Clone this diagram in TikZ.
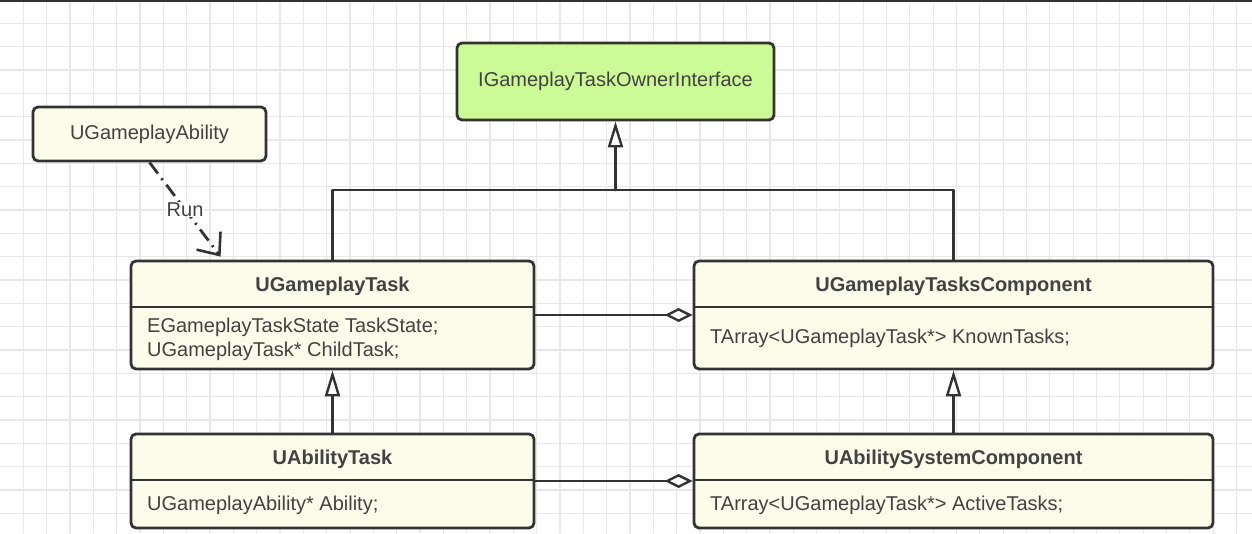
\documentclass[tikz,border=0pt]{standalone}
\usepackage{fontspec}
\setmainfont{Liberation Sans}
\usetikzlibrary{arrows.meta,positioning}
\definecolor{boxfill}{RGB}{252,252,234}
\definecolor{ifacefill}{RGB}{204,250,150}
\definecolor{inkgray}{RGB}{51,51,51}
\definecolor{txtgray}{RGB}{66,66,66}
\definecolor{gridgray}{RGB}{232,232,232}
\begin{document}
\begin{tikzpicture}[x=1pt,y=-1pt,line join=round,line cap=round,
  font=\fontsize{20}{24}\selectfont,text=txtgray,
  cls/.style={draw=inkgray,line width=2.8pt,fill=boxfill,rounded corners=5pt,inner sep=0pt},
  title/.style={font=\fontsize{20}{24}\selectfont\bfseries,inner sep=0pt},
  attr/.style={anchor=west,align=left,inner sep=0pt},
  conn/.style={draw=inkgray,line width=2.8pt},
  inherit/.style={conn,-{Triangle[length=26pt,width=15pt,fill=white,line width=2.4pt]}},
  aggr/.style={conn,-{Diamond[length=28pt,width=14pt,fill=white,line width=2.4pt]}},
  run/.style={conn,line cap=butt,dash pattern=on 14pt off 6pt on 2pt off 6pt,
    -{Straight Barb[length=18pt,width=30pt,line width=2.6pt]}},
  gridline/.style={draw=gridgray,line width=1.2pt}]
\def \gridstep{23.33}
\useasboundingbox (0,0) rectangle (1252,533);
\fill[white] (0,0) rectangle (1252,533);
\foreach \i in {1,...,53} \draw[gridline] (\i*\gridstep,0) -- (\i*\gridstep,533);
\foreach \j in {1,...,22} \draw[gridline] (0,\j*\gridstep) -- (1252,\j*\gridstep);
\draw[inkgray,line width=2pt] (0,1) -- (1252,1);

\node[cls,fill=ifacefill,minimum width=317pt,minimum height=77pt] (iface) at (615.5,81.5) {};
\node (iface-name) at (iface.center) {IGameplayTaskOwnerInterface};

\node[cls,minimum width=233pt,minimum height=54pt] (ability) at (149.5,134) {};
\node (ability-name) at (ability.center) {UGameplayAbility};

\node[cls,minimum width=403pt,minimum height=108pt] (task) at (332.5,315) {};
\draw[conn] (131,307) -- (534,307);
\node[title] (task-name) at (332.5,286) {UGameplayTask};
\node[attr] (task-attr) at (147,339) {EGameplayTaskState TaskState;\\UGameplayTask* ChildTask;};

\node[cls,minimum width=519pt,minimum height=108pt] (tcomp) at (953.5,315) {};
\draw[conn] (694,307) -- (1213,307);
\node[title] (tcomp-name) at (953.5,286) {UGameplayTasksComponent};
\node[attr] (tcomp-attr) at (710,338.5) {TArray<UGameplayTask*> KnownTasks;};

\node[cls,minimum width=403pt,minimum height=94pt] (atask) at (332.5,481) {};
\draw[conn] (131,480) -- (534,480);
\node[title] (atask-name) at (332.5,459) {UAbilityTask};
\node[attr] (atask-attr) at (147,505) {UGameplayAbility* Ability;};

\node[cls,minimum width=519pt,minimum height=94pt] (ascomp) at (953.5,481) {};
\draw[conn] (694,480) -- (1213,480);
\node[title] (ascomp-name) at (953.5,459) {UAbilitySystemComponent};
\node[attr] (ascomp-attr) at (710,505) {TArray<UGameplayTask*> ActiveTasks;};

\coordinate (join) at (615.5,190);
\draw[conn] (task.north) |- (join) -| (tcomp.north);
\draw[inherit] (join) -- (iface.south);
\draw[inherit] (atask.north) -- (task.south);
\draw[inherit] (ascomp.north) -- (tcomp.south);
\draw[aggr] (task.east) -- (tcomp.west);
\draw[aggr] (atask.east) -- (ascomp.west);
\draw[run] (ability.south) -- ([xshift=91pt,yshift=3pt]task.north west)
  node[midway,fill=white,inner sep=1pt] (run-label) {Run};
\end{tikzpicture}
\end{document}
